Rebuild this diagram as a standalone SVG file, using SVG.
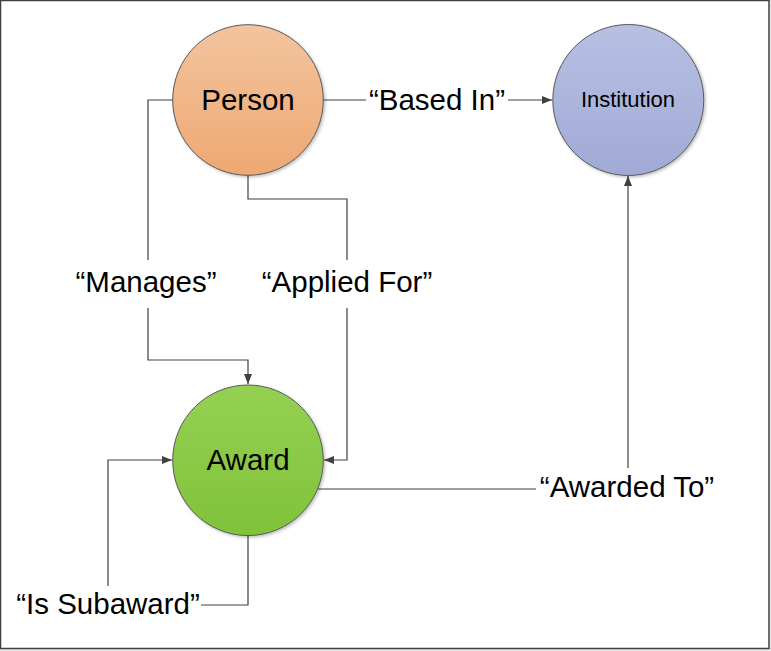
<svg xmlns="http://www.w3.org/2000/svg" width="771" height="651" viewBox="0 0 771 651">
<defs>
<linearGradient id="gP" x1="0" y1="0" x2="0" y2="1"><stop offset="0" stop-color="#f3c49e"/><stop offset="1" stop-color="#eea872"/></linearGradient>
<linearGradient id="gI" x1="0" y1="0" x2="0" y2="1"><stop offset="0" stop-color="#b7c0e2"/><stop offset="1" stop-color="#a1aad5"/></linearGradient>
<linearGradient id="gA" x1="0" y1="0" x2="0" y2="1"><stop offset="0" stop-color="#94d152"/><stop offset="1" stop-color="#80c23a"/></linearGradient>
<filter id="sh" x="-20%" y="-20%" width="140%" height="140%"><feDropShadow dx="1.5" dy="1.5" stdDeviation="1.5" flood-color="#000" flood-opacity="0.25"/></filter>
<marker id="ar" viewBox="0 0 10 8" refX="10" refY="4" markerWidth="10" markerHeight="8" markerUnits="userSpaceOnUse" orient="auto"><path d="M0,0 L10,4 L0,8 Z" fill="#404040"/></marker>
</defs>
<style>
.node{stroke:#595959;stroke-width:1}
.t{font-family:"Liberation Sans",Arial,sans-serif;font-size:29.5px;fill:#000;text-anchor:middle}
.c{fill:none;stroke:#404040;stroke-width:1.2}
</style>
<rect x="0" y="0" width="771" height="651" fill="#e8e8e8"/>
<rect x="0.5" y="0.5" width="768.5" height="648" fill="#fff" stroke="#404040" stroke-width="1.5"/>
<g id="connectors">
<path class="c" d="M323,100 H366"/>
<path class="c" d="M508,100 H552" marker-end="url(#ar)"/>
<path class="c" d="M173,100 H148 V260"/>
<path class="c" d="M148,308 V360 H248 V384" marker-end="url(#ar)"/>
<path class="c" d="M248,175 V199 H347 V260"/>
<path class="c" d="M347,308 V460 H324" marker-end="url(#ar)"/>
<path class="c" d="M318,489 H536"/>
<path class="c" d="M628,468 V176" marker-end="url(#ar)"/>
<path class="c" d="M248,535 V605 H201"/>
<path class="c" d="M108,586 V460 H172" marker-end="url(#ar)"/>
<text class="t" x="437" y="110">“Based In”</text>
<text class="t" x="146" y="292">“Manages”</text>
<text class="t" x="347" y="292">“Applied For”</text>
<text class="t" x="627" y="497">“Awarded To”</text>
<text class="t" x="108" y="614">“Is Subaward”</text>
</g>
<g id="person">
<circle class="node" cx="248" cy="100" r="75.3" fill="url(#gP)" filter="url(#sh)"/>
<text class="t" x="248" y="110">Person</text>
</g>
<g id="institution">
<circle class="node" cx="628.3" cy="100" r="75.5" fill="url(#gI)" filter="url(#sh)"/>
<text class="t" x="628" y="107" style="font-size:22px">Institution</text>
</g>
<g id="award">
<circle class="node" cx="248" cy="460.3" r="75.3" fill="url(#gA)" filter="url(#sh)"/>
<text class="t" x="248" y="470">Award</text>
</g>
</svg>
